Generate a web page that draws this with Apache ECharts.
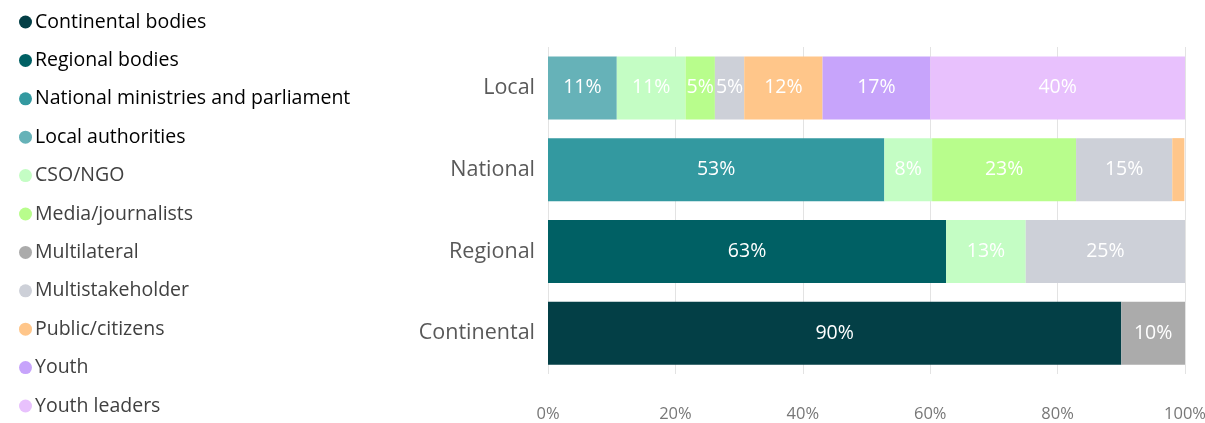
<!DOCTYPE html>
<html>
<head>
<meta charset="utf-8">
<script src="https://cdn.jsdelivr.net/npm/echarts@6/dist/echarts.min.js"></script>
<style>
  html, body { margin: 0; padding: 0; background: #fff; }
  #chart { width: 1205px; height: 423px; }
</style>
</head>
<body>
<div id="chart"></div>
<script>
// categories, bottom to top
const categories = ["Continental", "Regional", "National", "Local"];

// share of each stakeholder type per level, in percent
const continentalBodies = [90, null, null, null];
const regionalBodies = [null, 62.5, null, null];
const nationalMinistries = [null, null, 52.8, null];
const localAuthorities = [null, null, null, 10.8];
const csoNgo = [null, 12.5, 7.5, 10.8];
const mediaJournalists = [null, null, 22.6, 4.6];
const multilateral = [10, null, null, null];
const multistakeholder = [null, 25, 15.1, 4.6];
const publicCitizens = [null, null, 1.9, 12.3];
const youth = [null, null, null, 16.9];
const youthLeaders = [null, null, null, 40];

const xTicks = [0, 20, 40, 60, 80, 100];

const seriesDefs = [
  { name: "Continental bodies", data: continentalBodies, color: "#033F46", dark: true },
  { name: "Regional bodies", data: regionalBodies, color: "#006064", dark: true },
  { name: "National ministries and parliament", data: nationalMinistries, color: "#3399A0", dark: true },
  { name: "Local authorities", data: localAuthorities, color: "#66B2B8", dark: true },
  { name: "CSO/NGO", data: csoNgo, color: "#C4FDC4" },
  { name: "Media/journalists", data: mediaJournalists, color: "#B8FD8C" },
  { name: "Multilateral", data: multilateral, color: "#ABABAB" },
  { name: "Multistakeholder", data: multistakeholder, color: "#CDD0D8" },
  { name: "Public/citizens", data: publicCitizens, color: "#FFC68A" },
  { name: "Youth", data: youth, color: "#C7A4FB" },
  { name: "Youth leaders", data: youthLeaders, color: "#E8C1FD" },
];

const chart = echarts.init(document.getElementById("chart"));

const option = {
  animation: false,
  textStyle: { fontFamily: "Open Sans" },
  legend: {
    orient: "vertical",
    left: 14,
    top: 7,
    icon: "circle",
    itemWidth: 13,
    itemHeight: 13,
    itemGap: 18.4,
    selectedMode: false,
    textStyle: { fontSize: 19.5, lineHeight: 20, color: "#404040", padding: [0, 0, 0, -2] },
    data: seriesDefs.map((s) => ({
      name: s.name,
      textStyle: { color: s.dark ? "#000" : "#404040" },
    })),
  },
  grid: {
    left: 548,
    right: 20,
    top: 47,
    bottom: 49,
    outerBoundsMode: "none",
  },
  xAxis: {
    type: "value",
    min: 0,
    max: 100,
    interval: 20,
    axisLabel: {
      color: "#777",
      fontSize: 16.5,
      margin: 32,
      formatter: (v) => (xTicks.includes(v) ? v + "%" : ""),
    },
    splitLine: { lineStyle: { color: "#E3E3E3" } },
    axisLine: { show: false },
    axisTick: { show: false },
  },
  yAxis: {
    type: "category",
    data: categories,
    axisLabel: { color: "#595959", fontSize: 21.5, margin: 13 },
    axisLine: { show: false },
    axisTick: { show: false },
  },
  series: seriesDefs.map((s) => ({
    name: s.name,
    type: "bar",
    stack: "total",
    barWidth: 63,
    itemStyle: { color: s.color },
    label: {
      show: true,
      position: "inside",
      color: "#fff",
      fontSize: 19.5,
      formatter: (p) => (p.value >= 4 ? Math.round(p.value) + "%" : ""),
    },
    data: s.data,
  })),
};

chart.setOption(option);
</script>
</body>
</html>
